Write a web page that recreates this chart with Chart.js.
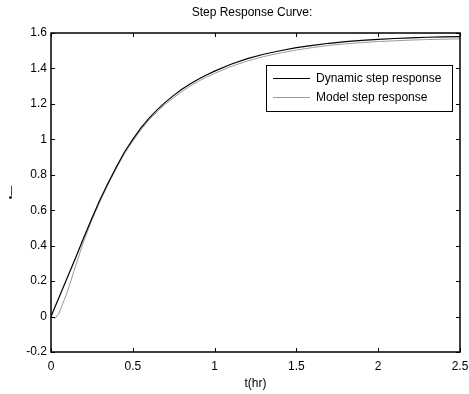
<!DOCTYPE html>
<html>
<head>
<meta charset="utf-8">
<script src="https://cdn.jsdelivr.net/npm/chart.js@4"></script>
<style>
html,body{margin:0;padding:0;background:#fff;}
#wrap{width:469px;height:394px;position:relative;}
</style>
</head>
<body>
<div id="wrap"><canvas id="c"></canvas></div>
<script>
// ---- data ----
const titleText = "Step Response Curve:";
const xTitle = "t(hr)";
const yTitle = "\u2022\u2014";
const seriesNames = ["Dynamic step response", "Model step response"];
const tValues = [0,0.025,0.05,0.1,0.15,0.2,0.25,0.3,0.35,0.4,0.45,0.5,0.55,0.6,0.65,0.7,0.75,0.8,0.85,0.9,0.95,1.0,1.1,1.2,1.3,1.4,1.5,1.6,1.7,1.8,1.9,2.0,2.1,2.2,2.3,2.4,2.5];
const dynamicValues = [0,0.055,0.11,0.22,0.33,0.445,0.555,0.66,0.755,0.845,0.93,1.0,1.065,1.12,1.168,1.21,1.248,1.282,1.312,1.339,1.363,1.385,1.424,1.455,1.48,1.5,1.517,1.53,1.542,1.551,1.558,1.564,1.569,1.573,1.576,1.578,1.58];
const modelValues = [0,-0.01,0.02,0.14,0.285,0.425,0.545,0.65,0.748,0.837,0.92,0.99,1.055,1.11,1.157,1.199,1.236,1.27,1.3,1.327,1.351,1.372,1.411,1.442,1.467,1.487,1.504,1.518,1.53,1.539,1.546,1.552,1.556,1.56,1.563,1.565,1.567];
const xTicks = [0,0.5,1,1.5,2,2.5];
const yTicks = [-0.2,0,0.2,0.4,0.6,0.8,1,1.2,1.4,1.6];

const FONT = "'Liberation Sans', Arial, sans-serif";
const toPts = (ys) => tValues.map((t, i) => ({x: t, y: ys[i]}));

// frame + inward ticks + legend box (MATLAB style)
const matlabPlugin = {
  id: 'matlab',
  afterLayout(chart) {
    // centre the title over the axes box, as MATLAB does
    if (chart.titleBlock) {
      chart.titleBlock.left = chart.chartArea.left - 7;
      chart.titleBlock.right = chart.chartArea.right;
    }
  },
  afterDatasetsDraw(chart) {
    const {ctx, chartArea: a, scales} = chart;
    ctx.save();
    ctx.strokeStyle = '#000';
    ctx.lineWidth = 1;
    const tl = 4;
    ctx.beginPath();
    scales.x.ticks.forEach(tk => {
      const px = Math.round(scales.x.getPixelForValue(tk.value)) + 0.5;
      ctx.moveTo(px, a.bottom); ctx.lineTo(px, a.bottom - tl);
      ctx.moveTo(px, a.top); ctx.lineTo(px, a.top + tl);
    });
    scales.y.ticks.forEach(tk => {
      const py = Math.round(scales.y.getPixelForValue(tk.value)) + 0.5;
      ctx.moveTo(a.left, py); ctx.lineTo(a.left + tl, py);
      ctx.moveTo(a.right, py); ctx.lineTo(a.right - tl, py);
    });
    ctx.stroke();
    ctx.lineWidth = 1.5;
    ctx.strokeRect(a.left, a.top, a.right - a.left, a.bottom - a.top);

    // legend
    const lx = 266, ly = 65, lw = 186, lh = 46;
    ctx.fillStyle = '#fff';
    ctx.fillRect(lx, ly, lw, lh);
    ctx.lineWidth = 1;
    ctx.strokeStyle = '#000';
    ctx.strokeRect(lx + 0.5, ly + 0.5, lw, lh);
    ctx.font = '12px ' + FONT;
    ctx.textBaseline = 'middle';
    ctx.textAlign = 'left';
    chart.data.datasets.forEach((ds, i) => {
      const y = ly + 13.5 + i * 19;
      ctx.strokeStyle = ds.borderColor;
      ctx.lineWidth = ds.borderWidth;
      ctx.beginPath();
      ctx.moveTo(273, y); ctx.lineTo(310, y);
      ctx.stroke();
      ctx.fillStyle = '#000';
      ctx.fillText(ds.label, 316, y);
    });
    ctx.restore();
  }
};

new Chart(document.getElementById('c'), {
  type: 'line',
  data: {
    datasets: [
      {label: seriesNames[0], data: toPts(dynamicValues), borderColor: '#000', borderWidth: 1.2, pointRadius: 0, tension: 0, fill: false},
      {label: seriesNames[1], data: toPts(modelValues), borderColor: '#9a9a9a', borderWidth: 1, pointRadius: 0, tension: 0, fill: false}
    ]
  },
  options: {
    responsive: true,
    maintainAspectRatio: false,
    animation: false,
    devicePixelRatio: 1,
    layout: {padding: {left: 0, right: 9, top: 0, bottom: 0}},
    plugins: {
      legend: {display: false},
      tooltip: {enabled: false},
      title: {display: true, text: titleText, color: '#000', font: {family: FONT, size: 12, weight: 'normal'}, padding: {top: 5, bottom: 13.6}}
    },
    scales: {
      x: {
        type: 'linear', min: 0, max: 2.5,
        afterBuildTicks: (s) => { s.ticks = xTicks.map(v => ({value: v})); },
        afterFit: (s) => { s.height = 42; s.paddingRight = 0; s.paddingLeft = 0; },
        grid: {display: false, drawTicks: false},
        border: {display: false},
        ticks: {color: '#000', font: {family: FONT, size: 12}, padding: 7, maxRotation: 0, callback: (v) => String(v)},
        title: {display: true, text: xTitle, color: '#000', font: {family: FONT, size: 12}, padding: {top: 0, bottom: 3}}
      },
      y: {
        type: 'linear', min: -0.2, max: 1.6,
        afterBuildTicks: (s) => { s.ticks = yTicks.map(v => ({value: v})); },
        afterFit: (s) => { s.width = 51; },
        grid: {display: false, drawTicks: false},
        border: {display: false},
        ticks: {color: '#000', font: {family: FONT, size: 12}, padding: 4, callback: (v) => String(Math.round(v * 10) / 10)},
        title: {display: true, text: yTitle, color: '#000', font: {family: FONT, size: 10}, padding: {top: 5, bottom: 0}}
      }
    }
  },
  plugins: [matlabPlugin]
});
</script>
</body>
</html>
